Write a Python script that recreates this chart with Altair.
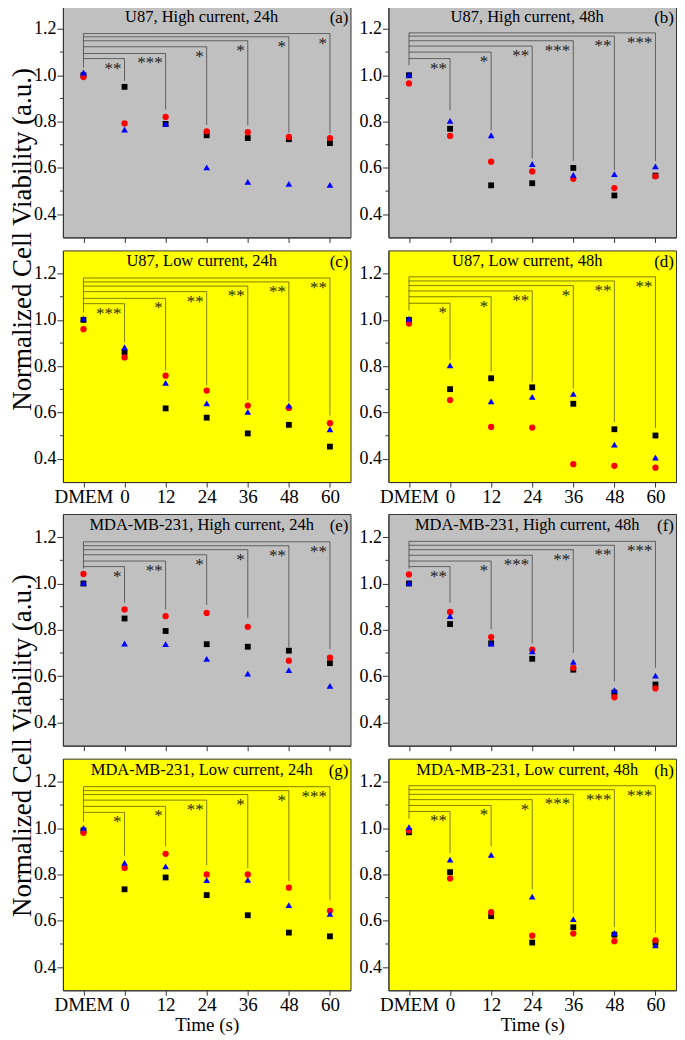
import altair as alt
import pandas as pd

# ---------------- data ----------------
cats = ["DMEM", "0", "12", "24", "36", "48", "60"]
bracket_cats = ["0", "12", "24", "36", "48", "60"]
y_ticks = [0.4, 0.6, 0.8, 1.0, 1.2]
y_minor = [0.5, 0.7, 0.9, 1.1]
series_names = ["black", "red", "blue"]
series_colors = ["#000000", "#ff0000", "#0000ff"]
series_shapes = ["square", "circle", "triangle-up"]
series_sizes = [34, 45, 62]

panel_titles = [
    "U87, High current, 24h", "U87, High current, 48h",
    "U87, Low current, 24h", "U87, Low current, 48h",
    "MDA-MB-231, High current, 24h", "MDA-MB-231, High current, 48h",
    "MDA-MB-231, Low current, 24h", "MDA-MB-231, Low current, 48h",
]
panel_letters = ["(a)", "(b)", "(c)", "(d)", "(e)", "(f)", "(g)", "(h)"]
y_title = "Normalized Cell Viability (a.u.)"
x_title = "Time (s)"

# (a)
black_a = [1.00, 0.950, 0.790, 0.741, 0.729, 0.724, 0.707]
red_a = [0.992, 0.792, 0.820, 0.758, 0.754, 0.734, 0.729]
blue_a = [1.012, 0.765, 0.790, 0.602, 0.540, 0.531, 0.527]
lev_a = [1.072, 1.094, 1.123, 1.149, 1.166, 1.180]
bot_a = [0.976, 0.852, 0.786, 0.784, 0.752, 0.748]
dmem_bot_a = 1.033
stars_a = ["**", "***", "*", "*", "*", "*"]
# (b)
black_b = [1.00, 0.769, 0.525, 0.534, 0.600, 0.481, 0.567]
red_b = [0.965, 0.738, 0.627, 0.585, 0.553, 0.513, 0.564]
blue_b = [1.003, 0.803, 0.741, 0.617, 0.570, 0.573, 0.607]
lev_b = [1.072, 1.100, 1.126, 1.149, 1.169, 1.183]
bot_b = [0.848, 0.762, 0.641, 0.630, 0.591, 0.630]
dmem_bot_b = 1.043
stars_b = ["**", "*", "**", "***", "**", "***"]
# (c)
black_c = [1.00, 0.861, 0.618, 0.578, 0.510, 0.547, 0.453]
red_c = [0.960, 0.838, 0.759, 0.695, 0.630, 0.620, 0.554]
blue_c = [1.007, 0.882, 0.728, 0.640, 0.603, 0.630, 0.528]
lev_c = [1.070, 1.093, 1.122, 1.146, 1.164, 1.181]
bot_c = [0.903, 0.782, 0.718, 0.654, 0.647, 0.587]
dmem_bot_c = 1.032
stars_c = ["***", "*", "**", "**", "**", "**"]
# (d)
black_d = [1.00, 0.701, 0.748, 0.709, 0.638, 0.528, 0.501]
red_d = [0.984, 0.654, 0.538, 0.535, 0.377, 0.370, 0.362]
blue_d = [1.005, 0.804, 0.648, 0.668, 0.681, 0.462, 0.406]
lev_d = [1.072, 1.100, 1.125, 1.148, 1.168, 1.186]
bot_d = [0.828, 0.777, 0.733, 0.704, 0.559, 0.533]
dmem_bot_d = 1.040
stars_d = ["*", "*", "**", "*", "**", "**"]
# (e)
black_e = [1.00, 0.849, 0.795, 0.738, 0.727, 0.710, 0.656]
red_e = [1.041, 0.888, 0.859, 0.873, 0.813, 0.667, 0.680]
blue_e = [1.003, 0.741, 0.738, 0.675, 0.611, 0.626, 0.558]
lev_e = [1.073, 1.097, 1.124, 1.146, 1.163, 1.180]
bot_e = [0.917, 0.888, 0.908, 0.852, 0.724, 0.718]
dmem_bot_e = 1.064
stars_e = ["*", "**", "*", "*", "**", "**"]
# (f)
black_f = [1.00, 0.825, 0.742, 0.675, 0.628, 0.529, 0.564]
red_f = [1.039, 0.877, 0.769, 0.714, 0.636, 0.509, 0.547]
blue_f = [1.003, 0.859, 0.741, 0.707, 0.662, 0.540, 0.602]
lev_f = [1.073, 1.097, 1.122, 1.146, 1.165, 1.182]
bot_f = [0.917, 0.803, 0.741, 0.700, 0.577, 0.636]
dmem_bot_f = 1.064
stars_f = ["**", "*", "***", "**", "**", "***"]
# (g)
black_g = [0.990, 0.736, 0.787, 0.711, 0.624, 0.549, 0.533]
red_g = [0.980, 0.828, 0.889, 0.800, 0.800, 0.743, 0.643]
blue_g = [1.001, 0.850, 0.835, 0.776, 0.777, 0.668, 0.630]
lev_g = [1.068, 1.094, 1.121, 1.145, 1.162, 1.179]
bot_g = [0.881, 0.921, 0.840, 0.828, 0.772, 0.689]
dmem_bot_g = 1.027
stars_g = ["*", "*", "**", "*", "*", "***"]
# (h)
black_h = [0.982, 0.810, 0.620, 0.506, 0.572, 0.540, 0.505]
red_h = [0.990, 0.783, 0.637, 0.536, 0.545, 0.512, 0.516]
blue_h = [1.004, 0.864, 0.885, 0.704, 0.607, 0.548, 0.494]
lev_h = [1.072, 1.098, 1.123, 1.146, 1.166, 1.183]
bot_h = [0.892, 0.921, 0.736, 0.633, 0.573, 0.548]
dmem_bot_h = 1.041
stars_h = ["**", "*", "*", "***", "***", "***"]

# ---------------- style ----------------
W, H = 288, 232
FONT = "Liberation Serif"
GRAY = "#c0c0c0"
YELLOW = "#ffff00"
FRAME = "#333333"


def make_panel(idx, black, red, blue, lev, bot, dmem_bot, stars, bg, xlabels, xtitle_on):
    rows = []
    for name, vals in zip(series_names, (black, red, blue)):
        for c, v in zip(cats, vals):
            rows.append({"cat": c, "value": v, "series": name})
    pts = pd.DataFrame(rows)

    xscale = alt.Scale(type="point", domain=cats, padding=0.5)
    yscale = alt.Scale(domain=[0.3, 1.3], nice=False, zero=False)
    x_axis = alt.Axis(
        title=x_title if xtitle_on else None,
        labels=xlabels, ticks=True, tickSize=5, labelFontSize=19,
        labelPadding=0, labelAngle=0, titleFontSize=19, titlePadding=1,
        grid=False, domain=True,
    )
    y_axis = alt.Axis(
        title=None, values=y_ticks, format=".1f", tickSize=6, ticks=True,
        labels=True, labelFontSize=18, labelPadding=1, grid=False, domain=True,
    )

    points = alt.Chart(pts).mark_point(filled=True, opacity=1).encode(
        x=alt.X("cat:N", scale=xscale, axis=x_axis, sort=cats),
        y=alt.Y("value:Q", scale=yscale, axis=y_axis),
        color=alt.Color("series:N", scale=alt.Scale(domain=series_names, range=series_colors), legend=None),
        shape=alt.Shape("series:N", scale=alt.Scale(domain=series_names, range=series_shapes), legend=None),
        size=alt.Size("series:N", scale=alt.Scale(domain=series_names, range=series_sizes), legend=None),
    )

    minor = alt.Chart(pd.DataFrame({"value": y_minor})).mark_rule(color=FRAME, strokeWidth=1).encode(
        x=alt.value(-3), x2=alt.value(0), y="value:Q"
    )

    hdf = pd.DataFrame({"start": ["DMEM"] * len(bracket_cats), "cat": bracket_cats, "value": lev})
    hrule = alt.Chart(hdf).mark_rule(color="black", opacity=0.5, strokeWidth=1).encode(
        x="start:N", x2="cat", y="value:Q"
    )
    vdf = pd.DataFrame({"cat": ["DMEM"] + bracket_cats, "value": [max(lev)] + lev,
                        "bottom": [dmem_bot] + bot})
    vrule = alt.Chart(vdf).mark_rule(color="black", opacity=0.5, strokeWidth=1).encode(
        x="cat:N", y="value:Q", y2="bottom"
    )
    sdf = pd.DataFrame({"cat": bracket_cats, "value": lev, "stars": stars})
    star_t = alt.Chart(sdf).mark_text(
        align="right", baseline="top", dx=-3, dy=2, fontSize=17, font=FONT,
        color="black", opacity=0.85,
    ).encode(x="cat:N", y="value:Q", text="stars:N")

    title_t = alt.Chart(pd.DataFrame({"t": [panel_titles[idx]]})).mark_text(
        fontSize=16.5, font=FONT, color="black", baseline="alphabetic", align="center"
    ).encode(x=alt.value(W / 2 - 5), y=alt.value(16), text="t:N")
    letter_t = alt.Chart(pd.DataFrame({"t": [panel_letters[idx]]})).mark_text(
        fontSize=17, font=FONT, color="black", baseline="alphabetic", align="right"
    ).encode(x=alt.value(W - 2), y=alt.value(17), text="t:N")

    return alt.layer(points, minor, hrule, vrule, star_t, title_t, letter_t).properties(
        width=W, height=H,
        view=alt.ViewBackground(fill=bg, stroke=FRAME, strokeWidth=1),
    )


pa = make_panel(0, black_a, red_a, blue_a, lev_a, bot_a, dmem_bot_a, stars_a, GRAY, False, False)
pb = make_panel(1, black_b, red_b, blue_b, lev_b, bot_b, dmem_bot_b, stars_b, GRAY, False, False)
pc = make_panel(2, black_c, red_c, blue_c, lev_c, bot_c, dmem_bot_c, stars_c, YELLOW, True, False)
pd_ = make_panel(3, black_d, red_d, blue_d, lev_d, bot_d, dmem_bot_d, stars_d, YELLOW, True, False)
pe = make_panel(4, black_e, red_e, blue_e, lev_e, bot_e, dmem_bot_e, stars_e, GRAY, False, False)
pf = make_panel(5, black_f, red_f, blue_f, lev_f, bot_f, dmem_bot_f, stars_f, GRAY, False, False)
pg = make_panel(6, black_g, red_g, blue_g, lev_g, bot_g, dmem_bot_g, stars_g, YELLOW, True, True)
ph = make_panel(7, black_h, red_h, blue_h, lev_h, bot_h, dmem_bot_h, stars_h, YELLOW, True, True)

row1 = alt.hconcat(pa, pb, spacing=38, bounds="flush")
row2 = alt.hconcat(pc, pd_, spacing=38, bounds="flush")
row3 = alt.hconcat(pe, pf, spacing=38, bounds="flush")
row4 = alt.hconcat(pg, ph, spacing=38, bounds="flush")
grid = alt.vconcat(row1, row2, row3, row4, spacing=6)


def ytitle_chart():
    return alt.Chart(pd.DataFrame({"t": [y_title]})).mark_text(
        angle=270, fontSize=27, font=FONT, color="black", baseline="middle", align="center"
    ).encode(x=alt.value(9), y=alt.value(234), text="t:N").properties(
        width=14, height=474, view=alt.ViewBackground(stroke="transparent")
    )


tcol = alt.vconcat(ytitle_chart(), ytitle_chart(), spacing=31)

chart = alt.hconcat(tcol, grid, spacing=-4).properties(
    padding={"left": 0, "top": -4, "right": 0, "bottom": 0}
).configure_axis(
    labelFont=FONT, titleFont=FONT, labelColor="black", titleColor="black",
    domainColor=FRAME, tickColor=FRAME, titleFontWeight="normal",
)

chart.save("out.html", embed_options={"renderer": "svg", "actions": False})
